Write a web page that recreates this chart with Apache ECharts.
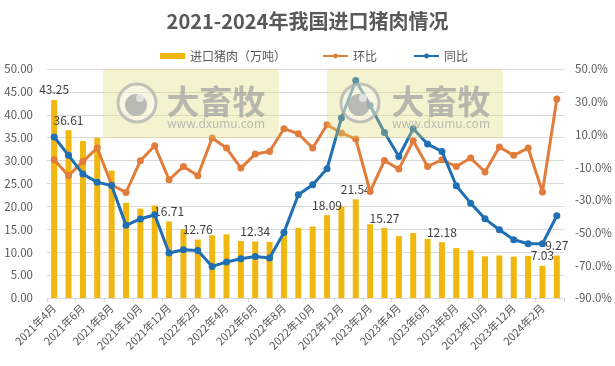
<!DOCTYPE html>
<html>
<head>
<meta charset="utf-8">
<script src="https://cdn.jsdelivr.net/npm/echarts@6/dist/echarts.min.js"></script>
<style>
html,body{margin:0;padding:0;background:#fff;}
#main{width:615px;height:366px;}
</style>
</head>
<body>
<div id="main"></div>
<script>
// ---- data ----
var months = ['2021年4月','2021年5月','2021年6月','2021年7月','2021年8月','2021年9月','2021年10月','2021年11月','2021年12月',
  '2022年1月','2022年2月','2022年3月','2022年4月','2022年5月','2022年6月','2022年7月','2022年8月','2022年9月','2022年10月','2022年11月','2022年12月',
  '2023年1月','2023年2月','2023年3月','2023年4月','2023年5月','2023年6月','2023年7月','2023年8月','2023年9月','2023年10月','2023年11月','2023年12月',
  '2024年1月','2024年2月','2024年3月'];
var importVolume = [43.25, 36.61, 34.3, 35.0, 27.8, 20.8, 19.5, 20.2, 16.71, 15.0, 12.76, 13.7, 13.9, 12.45, 12.34, 12.25, 13.8, 15.3, 15.6, 18.09, 20.0, 21.54, 16.1, 15.27, 13.5, 14.2, 12.9, 12.18, 10.9, 10.4, 9.1, 9.3, 9.05, 9.2, 7.03, 9.27];
var momChange = [-5.5, -15.3, -6.5, 1.7, -20.8, -25.5, -6.1, 3.1, -17.7, -9.6, -15.3, 7.8, 1.7, -10.6, -2.0, -0.4, 13.5, 10.4, 1.7, 15.9, 10.9, 7.2, -24.9, -5.9, -11.2, 6.1, -9.6, -5.5, -9.6, -4.4, -13.0, 2.3, -2.8, 1.7, -25.2, 31.6];
var yoyChange = [8.4, -2.8, -14.2, -19.3, -21.2, -45.6, -41.7, -39.1, -62.5, -60.5, -60.9, -70.7, -68.0, -66.0, -64.6, -65.6, -49.9, -26.9, -20.8, -11.0, 20.0, 43.0, 27.7, 11.2, -3.5, 13.5, 4.1, -0.4, -21.4, -32.0, -41.6, -48.3, -54.4, -56.8, -56.8, -39.7];
var labeledIdx = [0, 1, 8, 10, 14, 19, 21, 23, 27, 34, 35];
var seriesNames = ['进口猪肉（万吨）', '环比', '同比'];

var FONT = '"Noto Sans CJK SC", "Noto Sans", sans-serif';
var GOLD = '#F0B70F', ORANGE = '#E27C3A', BLUE = '#1F6FB2';

var barData = importVolume.map(function (v, i) {
  var item = { value: v };
  if (labeledIdx.indexOf(i) >= 0) {
    item.label = { show: true, position: 'top', distance: 4, color: '#404040', fontSize: 12, fontFamily: FONT,
      formatter: function (p) { return p.value.toFixed(2); } };
  }
  return item;
});

function watermark(x, cx, tx) {
  return [
    { type: 'rect', z: 100, silent: true, shape: { x: x, y: 69, width: 176, height: 69 }, style: { fill: 'rgba(226,216,110,0.33)' } },
    { type: 'circle', z: 101, silent: true, shape: { cx: cx, cy: 103, r: 19 }, style: { fill: 'rgba(255,255,255,0.35)', stroke: 'rgba(175,175,175,0.75)', lineWidth: 3 } },
    { type: 'circle', z: 102, silent: true, shape: { cx: cx - 1, cy: 105, r: 11 }, style: { fill: 'rgba(165,165,165,0.75)' } },
    { type: 'circle', z: 103, silent: true, shape: { cx: cx + 3, cy: 98, r: 4 }, style: { fill: 'rgba(235,235,235,0.8)' } },
    { type: 'text', z: 104, silent: true, style: { text: '大畜牧', x: tx, y: 101, align: 'center', verticalAlign: 'middle', font: 'bold 33px ' + FONT, fill: 'rgba(160,160,160,0.72)' } },
    { type: 'text', z: 104, silent: true, style: { text: 'www.dxumu.com', x: tx, y: 123, align: 'center', verticalAlign: 'middle', font: '12px ' + FONT, fill: 'rgba(170,170,170,0.75)' } }
  ];
}

var chart = echarts.init(document.getElementById('main'), null, { renderer: 'canvas' });
chart.setOption({
  backgroundColor: '#ffffff',
  animation: false,
  textStyle: { fontFamily: FONT },
  title: {
    text: '2021-2024年我国进口猪肉情况', left: 'center', top: 6,
    textStyle: { fontSize: 20, fontWeight: 'bold', color: '#595959', fontFamily: FONT }
  },
  legend: {
    top: 45, left: 155, itemWidth: 25, itemHeight: 6, itemGap: 36,
    textStyle: { fontSize: 12, color: '#595959', fontFamily: FONT },
    data: [{ name: seriesNames[0], icon: 'rect' }, { name: seriesNames[1] }, { name: seriesNames[2] }]
  },
  grid: { left: 47, right: 51, top: 69, bottom: 68, containLabel: false },
  xAxis: {
    type: 'category', data: months, boundaryGap: true,
    axisLine: { lineStyle: { color: '#D9D9D9' } },
    axisTick: { show: true, interval: 1, length: 4, lineStyle: { color: '#D9D9D9' } },
    axisLabel: { interval: 1, rotate: 45, color: '#595959', fontSize: 11, fontFamily: FONT, margin: 8 }
  },
  yAxis: [{
    type: 'value', min: 0, max: 50, interval: 5,
    axisLine: { show: false }, axisTick: { show: false },
    splitLine: { lineStyle: { color: '#D9D9D9' } },
    axisLabel: { color: '#595959', fontSize: 11.5, fontFamily: FONT, margin: 14, formatter: function (v) { return v.toFixed(2); } }
  }, {
    type: 'value', min: -90, max: 50, interval: 20,
    axisLine: { show: false }, axisTick: { show: false }, splitLine: { show: false },
    axisLabel: { color: '#595959', fontSize: 11.5, fontFamily: FONT, margin: 11, formatter: function (v) { return v.toFixed(1) + '%'; } }
  }],
  series: [{
    name: seriesNames[0], type: 'bar', data: barData, barWidth: 6,
    itemStyle: { color: GOLD }, z: 2
  }, {
    name: seriesNames[1], type: 'line', yAxisIndex: 1, data: momChange,
    symbol: 'circle', symbolSize: 7, lineStyle: { width: 3, color: ORANGE }, itemStyle: { color: ORANGE }, z: 3
  }, {
    name: seriesNames[2], type: 'line', yAxisIndex: 1, data: yoyChange,
    symbol: 'circle', symbolSize: 7, lineStyle: { width: 3, color: BLUE }, itemStyle: { color: BLUE }, z: 4
  }],
  graphic: watermark(103, 137, 216).concat(watermark(327, 360, 441))
});
</script>
</body>
</html>
